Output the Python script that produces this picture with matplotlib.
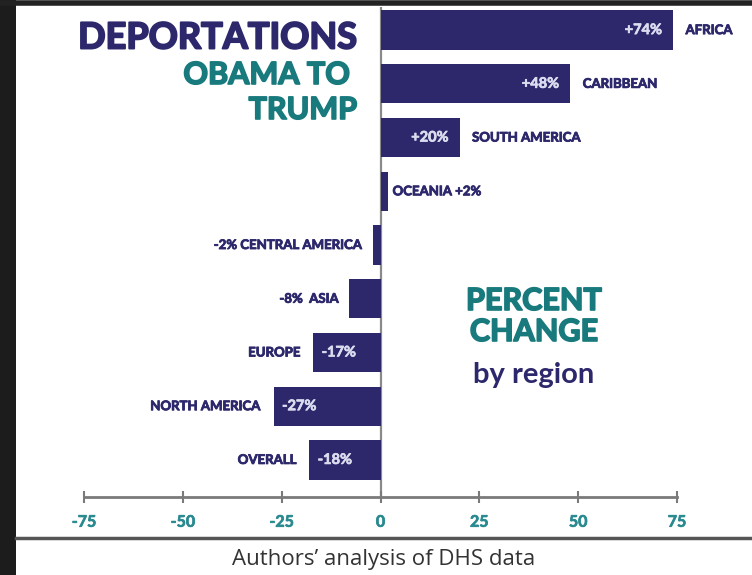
import matplotlib
matplotlib.use("Agg")
from matplotlib import pyplot
from matplotlib.patches import Rectangle
from matplotlib.lines import Line2D
import matplotlib.patheffects as pe

# данные
regions = ["AFRICA", "CARIBBEAN", "SOUTH AMERICA", "OCEANIA", "CENTRAL AMERICA",
           "ASIA", "EUROPE", "NORTH AMERICA", "OVERALL"]
change = [74, 48, 20, 2, -2, -8, -17, -27, -18]
value_labels = ["+74%", "+48%", "+20%", "+2%", "-2%", "-8%", "-17%", "-27%", "-18%"]
inside = [True, True, True, False, False, False, True, True, True]
ticks = [-75, -50, -25, 0, 25, 50, 75]

navy = "#2c286b"
teal = "#187a7c"
tick_teal = "#2a8a8f"
light = "#dcdcf0"

pyplot.rcParams["font.family"] = ["Lato", "DejaVu Sans"]


def heavy(color, w=0.9):
    # утолщение шрифта обводкой того же цвета
    return [pe.withStroke(linewidth=w, foreground=color)]


W, H = 752, 575
fig = pyplot.figure(figsize=(W / 100, H / 100), dpi=100)
fig.patch.set_facecolor("white")

# оси в пикселях: x от 84 до 677, y от 7 до 497
ax = fig.add_axes([84 / W, (H - 497) / H, (677 - 84) / W, 490 / H])
ax.set_xlim(-75, 75)
ax.set_ylim(8.69, -0.43)
ax.set_facecolor("none")

ypos = list(range(len(regions)))
ax.axvline(0, color="#8a8a8a", lw=1.6, zorder=0)
ax.barh(ypos, change, height=0.73, color=navy, zorder=2)

cat_kw = dict(va="center", fontsize=9.5, fontweight="bold", color=navy,
              path_effects=heavy(navy, 0.6))
val_kw = dict(va="center", fontsize=10.5, fontweight="bold", color=light, zorder=3,
              path_effects=heavy(light, 0.5))

for y, v, name, lab, ins in zip(ypos, change, regions, value_labels, inside):
    if v >= 0:
        if ins:
            ax.annotate(lab, (v, y), xytext=(-8, 0), textcoords="offset points",
                        ha="right", **val_kw)
            ax.annotate(name, (v, y), xytext=(9, 0), textcoords="offset points",
                        ha="left", **cat_kw)
        else:
            ax.annotate(name + " " + lab, (v, y), xytext=(3, 0), textcoords="offset points",
                        ha="left", **cat_kw)
    else:
        if ins:
            ax.annotate(lab, (v, y), xytext=(6, 0), textcoords="offset points",
                        ha="left", **val_kw)
            ax.annotate(name, (v, y), xytext=(-9, 0), textcoords="offset points",
                        ha="right", **cat_kw)
        else:
            gap = "  " if name == "ASIA" else " "
            ax.annotate(lab + gap + name, (v, y), xytext=(-7, 0), textcoords="offset points",
                        ha="right", **cat_kw)

# ось x
for s in ["top", "right", "left"]:
    ax.spines[s].set_visible(False)
ax.spines["bottom"].set_color("#7a7a7a")
ax.spines["bottom"].set_linewidth(2)
ax.set_yticks([])
ax.set_xticks(ticks)
ax.set_xticklabels([str(t) for t in ticks])
ax.tick_params(axis="x", direction="inout", length=9, width=1.5, color="#7a7a7a",
               pad=9, labelsize=11.5, labelcolor=tick_teal)
for t in ax.get_xticklabels():
    t.set_fontweight("bold")
    t.set_path_effects(heavy(tick_teal, 0.5))

# заголовки
fig.text(357 / W, 1 - 38 / H, "DEPORTATIONS", ha="right", va="center",
         fontsize=26, fontweight="bold", color=navy, path_effects=heavy(navy, 1.4))
fig.text(357 / W, 1 - 75 / H, "OBAMA TO ", ha="right", va="center",
         fontsize=22, fontweight="bold", color=teal, path_effects=heavy(teal, 1.2))
fig.text(357 / W, 1 - 110 / H, "TRUMP", ha="right", va="center",
         fontsize=22, fontweight="bold", color=teal, path_effects=heavy(teal, 1.2))
fig.text(534 / W, 1 - 301 / H, "PERCENT", ha="center", va="center",
         fontsize=22, fontweight="bold", color=teal, path_effects=heavy(teal, 1.2))
fig.text(534 / W, 1 - 332 / H, "CHANGE", ha="center", va="center",
         fontsize=22, fontweight="bold", color=teal, path_effects=heavy(teal, 1.2))
fig.text(534 / W, 1 - 375 / H, "by region", ha="center", va="center",
         fontsize=21, fontweight="bold", color=navy)

# рамка и подпись
fig.add_artist(Line2D([16 / W, 1], [1 - 538 / H, 1 - 538 / H], color="#555555", lw=2.5))
fig.add_artist(Line2D([0, 1], [1 - 3 / H, 1 - 3 / H], color="#222222", lw=4))
fig.add_artist(Rectangle((0, 0), 16 / W, 1, transform=fig.transFigure,
                         facecolor="#1c1c1c", edgecolor="none"))
fig.text(384 / W, 1 - 560 / H, "Authors\u2019 analysis of DHS data", ha="center", va="center",
         fontsize=16, color="#333333", family=["Open Sans", "DejaVu Sans"])

fig.savefig("out.png", dpi=100)
